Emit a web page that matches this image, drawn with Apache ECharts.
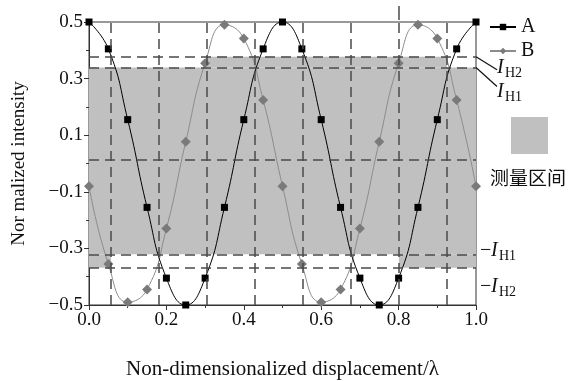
<!DOCTYPE html>
<html>
<head>
<meta charset="utf-8">
<script src="https://cdn.jsdelivr.net/npm/echarts@6/dist/echarts.min.js"></script>
<style>
  html, body { margin: 0; padding: 0; background: #fff; }
  #chart { width: 574px; height: 381px; }
</style>
</head>
<body>
<div id="chart"></div>
<script>
// displacement samples (x / lambda)
const xValues = [0, 0.05, 0.1, 0.15, 0.2, 0.25, 0.3, 0.35, 0.4, 0.45, 0.5,
  0.55, 0.6, 0.65, 0.7, 0.75, 0.8, 0.85, 0.9, 0.95, 1.0];
const seriesA = [0.5, 0.405, 0.155, -0.155, -0.405, -0.5, -0.405, -0.155, 0.155, 0.405, 0.5,
  0.405, 0.155, -0.155, -0.405, -0.5, -0.405, -0.155, 0.155, 0.405, 0.5];
const seriesB = [-0.08, -0.355, -0.49, -0.445, -0.23, 0.077, 0.354, 0.49, 0.442, 0.224, -0.08,
  -0.355, -0.49, -0.445, -0.23, 0.077, 0.354, 0.49, 0.442, 0.224, -0.08];

// threshold levels
const IH2 = 0.377, IH1 = 0.339, negIH1 = -0.321, negIH2 = -0.368, midLevel = 0.012;
const hLevels = [IH2, IH1, midLevel, negIH1, negIH2];
const vLines = [0.057, 0.181, 0.305, 0.429, 0.553, 0.677, 0.801, 0.925];
// measurement zone pieces: [x0, x1, y0, y1]
const zoneRects = [
  [0, 1, negIH1, IH1],
  [0.305, 0.925, IH1, IH2],
  [0, 0.057, negIH2, negIH1],
  [0.801, 1, negIH2, negIH1]
];

const xTickLabels = ['0.0', '0.2', '0.4', '0.6', '0.8', '1.0'];
const yTickLabels = ['-0.5', '-0.3', '-0.1', '0.1', '0.3', '0.5'];

const serif = '"Liberation Serif", "Times New Roman", serif';
const chart = echarts.init(document.getElementById('chart'));

const dashStyle = { color: '#4a4a4a', width: 1.5, type: [10, 6] };

const vLineData = vLines.map(function (x) {
  return [{ coord: [x, -0.5] }, { coord: [x, 0.5] }];
});
const hLineData = hLevels.map(function (y) {
  return [{ coord: [0, y] }, { coord: [1, y] }];
});

const option = {
  animation: false,
  grid: {
    left: 89, right: 98, top: 22, bottom: 76,
    outerBoundsMode: 'none',
    show: true, borderColor: '#333', borderWidth: 1
  },
  legend: {
    data: ['A', 'B'],
    orient: 'vertical',
    left: 484, top: 12,
    itemWidth: 26, itemHeight: 8, itemGap: 4,
    textStyle: { fontFamily: serif, fontSize: 20, color: '#111' }
  },
  xAxis: {
    type: 'value', min: 0, max: 1, interval: 0.2,
    name: 'Non-dimensionalized displacement/λ',
    nameLocation: 'middle', nameGap: 54,
    nameTextStyle: { fontFamily: serif, fontSize: 21, color: '#111' },
    axisLine: { onZero: false, lineStyle: { color: '#333', width: 1 } },
    axisTick: { inside: false, length: 5, lineStyle: { color: '#333' } },
    minorTick: { show: true, splitNumber: 2, length: 3, lineStyle: { color: '#333' } },
    splitLine: { show: false },
    axisLabel: {
      fontFamily: serif, fontSize: 19, color: '#111', margin: 6,
      formatter: function (v) { return xTickLabels[Math.round(v / 0.2)]; }
    }
  },
  yAxis: {
    type: 'value', min: -0.5, max: 0.5, interval: 0.2,
    name: 'Nor malized intensity',
    nameLocation: 'middle', nameGap: 60,
    nameTextStyle: { fontFamily: serif, fontSize: 19, color: '#111' },
    axisLine: { lineStyle: { color: '#333', width: 1 } },
    axisTick: { inside: false, length: 5, lineStyle: { color: '#333' } },
    minorTick: { show: true, splitNumber: 2, length: 3, lineStyle: { color: '#333' } },
    splitLine: { show: false },
    axisLabel: {
      fontFamily: serif, fontSize: 19, color: '#111', margin: 6,
      formatter: function (v) {
        return yTickLabels[Math.round((v + 0.5) / 0.2)].replace('-', '\u2212');
      }
    }
  },
  series: [
    {
      name: 'zone', type: 'line', data: [], z: 1, silent: true,
      markArea: {
        silent: true,
        itemStyle: { color: '#c0c0c0', opacity: 1, borderWidth: 0 },
        data: zoneRects.map(function (r) {
          return [{ coord: [r[0], r[2]] }, { coord: [r[1], r[3]] }];
        })
      }
    },
    {
      name: 'guides', type: 'line', data: [], z: 2, silent: true,
      markLine: {
        silent: true, symbol: 'none', animation: false,
        label: { show: false },
        lineStyle: dashStyle,
        data: vLineData.concat(hLineData)
      }
    },
    {
      name: 'A', type: 'line', z: 4, smooth: 0.5,
      data: xValues.map(function (x, i) { return [x, seriesA[i]]; }),
      symbol: 'rect', symbolSize: 7,
      lineStyle: { color: '#000', width: 1 },
      itemStyle: { color: '#000' }
    },
    {
      name: 'B', type: 'line', z: 3, smooth: 0.5,
      data: xValues.map(function (x, i) { return [x, seriesB[i]]; }),
      symbol: 'diamond', symbolSize: 10,
      lineStyle: { color: '#8c8c8c', width: 1 },
      itemStyle: { color: '#7a7a7a' }
    }
  ]
};
chart.setOption(option);

// annotations on the right side, anchored to the threshold levels
function px(x, y) { return chart.convertToPixel({ xAxisIndex: 0, yAxisIndex: 0 }, [x, y]); }
const pH2 = px(1, IH2), pH1 = px(1, IH1), pN1 = px(1, negIH1), pN2 = px(1, negIH2);
const pTop = px(0.801, 0.5);

function thresholdLabel(x, y, neg, sub) {
  const children = [];
  let off = 0;
  if (neg) {
    children.push({ type: 'text', x: 0, y: 0, style: { text: '\u2212', font: '20px ' + serif, fill: '#111' } });
    off = 11;
  }
  children.push({ type: 'text', x: off, y: 0, style: { text: 'I', font: 'italic 20px ' + serif, fill: '#111' } });
  children.push({ type: 'text', x: off + 8, y: 9, style: { text: sub, font: '14px ' + serif, fill: '#111' } });
  return { type: 'group', x: x, y: y, children: children };
}

chart.setOption({
  graphic: [
    // the 0.8 guide runs a little above the frame
    { type: 'line', shape: { x1: pTop[0], y1: pTop[1] - 16, x2: pTop[0], y2: pTop[1] - 2 },
      style: { stroke: '#4a4a4a', lineWidth: 1.5 } },
    { type: 'line', shape: { x1: pH2[0], y1: pH2[1], x2: pH2[0] + 21, y2: pH2[1] + 13 }, style: { stroke: '#111', lineWidth: 1.2 } },
    { type: 'line', shape: { x1: pH1[0], y1: pH1[1], x2: pH1[0] + 21, y2: pH1[1] + 19 }, style: { stroke: '#111', lineWidth: 1.2 } },
    thresholdLabel(pH2[0] + 21, pH2[1] + 1, false, 'H2'),
    thresholdLabel(pH1[0] + 21, pH1[1] + 14, false, 'H1'),
    thresholdLabel(pN1[0] + 4, pN1[1] - 14, true, 'H1'),
    thresholdLabel(pN2[0] + 4, pN2[1] + 9, true, 'H2'),
    { type: 'rect', shape: { x: 511, y: 117, width: 37, height: 37 }, style: { fill: '#c0c0c0' } },
    { type: 'text', x: 490, y: 168, style: { text: '测量区间', font: '19px "Noto Sans CJK SC"', fill: '#111' } }
  ]
});

window.addEventListener('resize', chart.resize);
</script>
</body>
</html>
